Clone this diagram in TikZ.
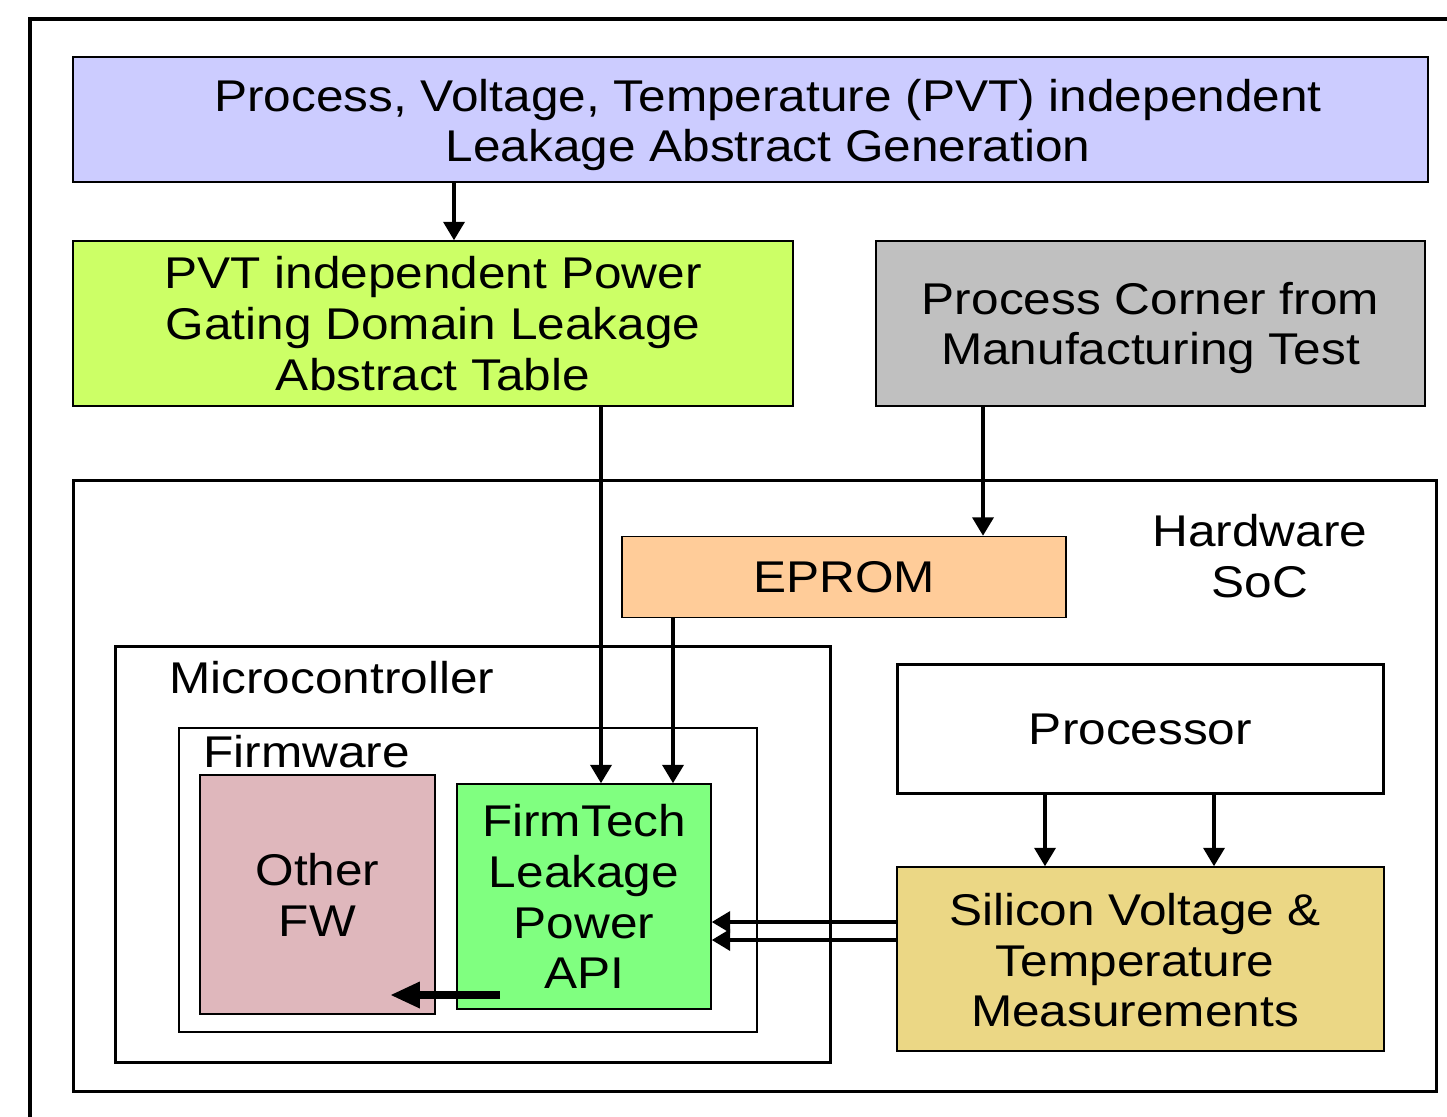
\documentclass[tikz,border=0pt]{standalone}
\usepackage{fontspec}
\setmainfont[FakeStretch=1.115]{Liberation Sans}
\usetikzlibrary{arrows.meta}
\definecolor{cTop}{HTML}{CCCCFF}
\definecolor{cPvt}{HTML}{CCFF66}
\definecolor{cGray}{HTML}{C0C0C0}
\definecolor{cEprom}{HTML}{FFCC99}
\definecolor{cFirm}{HTML}{80FF80}
\definecolor{cOther}{HTML}{DFB7BC}
\definecolor{cSil}{HTML}{EBD785}
\tikzset{
  txt/.style={font=\fontsize{25.3pt}{28.9pt}\selectfont, align=center, inner sep=0pt, text depth=0pt},
  box/.style={draw, line width=0.9pt, inner sep=0pt, txt},
  heavybox/.style={draw, line width=1.7pt, inner sep=0pt, txt},
  arr/.style={line width=2pt, -{Triangle[length=10.5pt,width=12pt]}},
  fatarr/.style={line width=4.5pt, -{Triangle[length=17pt,width=14pt]}}
}
\begin{document}
\begin{tikzpicture}[x=0.02cm,y=-0.02cm]
\useasboundingbox (0,0) rectangle (1447,1116);
\clip (0,0) rectangle (1447,1116);
\fill[white] (0,0) rectangle (1447,1116);
% outer frame (right and bottom edges lie outside the picture)
\draw[line width=1.9pt] (30,1200) -- (30,19) -- (1500,19);

% top row
\node[box, fill=cTop, minimum width=27.1cm, minimum height=2.5cm] (top) at (750.5,119.5) {};
\node[txt] (topT) at (768,120.5) {Process, Voltage, Temperature (PVT) independent\\Leakage Abstract Generation};
\node[box, fill=cPvt, minimum width=14.4cm, minimum height=3.3cm] (pvt) at (433,323.5)
  {PVT independent Power\\Gating Domain Leakage\\Abstract Table};
\node[box, fill=cGray, minimum width=10.98cm, minimum height=3.3cm] (gray) at (1150.5,323.5)
  {Process Corner from\\Manufacturing Test};

% hardware SoC
\node[heavybox, minimum width=27.28cm, minimum height=12.24cm] (soc) at (755,786) {};
\node[txt] (socT) at (1260,556) {Hardware\\SoC};
\node[box, fill=cEprom, minimum width=8.88cm, minimum height=1.62cm] (eprom) at (844,577) {EPROM};

% microcontroller
\node[heavybox, minimum width=14.32cm, minimum height=8.34cm] (micro) at (473,854.5) {};
\node[txt, anchor=west] (microT) at (169,677) {Microcontroller};
\node[box, minimum width=11.56cm, minimum height=6.08cm] (fw) at (468,880) {};
\node[txt, anchor=west] (fwT) at (203,751) {Firmware};
\node[box, fill=cOther, minimum width=4.7cm, minimum height=4.78cm] (other) at (317.5,894.5) {Other\\FW};
\node[box, fill=cFirm, minimum width=5.08cm, minimum height=4.5cm] (firm) at (584,896.5)
  {FirmTech\\Leakage\\Power\\API};

% processor and measurements
\node[heavybox, minimum width=9.74cm, minimum height=2.58cm] (proc) at (1140.5,729) {Processor};
\node[box, fill=cSil, minimum width=9.74cm, minimum height=3.68cm] (sil) at (1140.5,959) {};
\node[txt] (silT) at (1135,960) {Silicon Voltage \&\\Temperature\\Measurements};

% connector positions
\coordinate (xa) at (454,0);
\coordinate (xb) at (601,0);
\coordinate (xc) at (983,0);
\coordinate (xd) at (673,0);
\coordinate (xe) at (1045,0);
\coordinate (xf) at (1214,0);
\coordinate (ya) at (0,922);
\coordinate (yb) at (0,940);
\coordinate (fatS) at (500,995);
\coordinate (fatE) at (390,995);

\draw[arr] (top.south -| xa) -- (pvt.north -| xa);
\draw[arr] (pvt.south -| xb) -- (firm.north -| xb);
\draw[arr] (gray.south -| xc) -- (eprom.north -| xc);
\draw[arr] (eprom.south -| xd) -- (firm.north -| xd);
\draw[arr] (proc.south -| xe) -- (sil.north -| xe);
\draw[arr] (proc.south -| xf) -- (sil.north -| xf);
\draw[arr] (sil.west |- ya) -- (firm.east |- ya);
\draw[arr] (sil.west |- yb) -- (firm.east |- yb);
\draw[fatarr] (fatS) -- (fatE);
\end{tikzpicture}
\end{document}
